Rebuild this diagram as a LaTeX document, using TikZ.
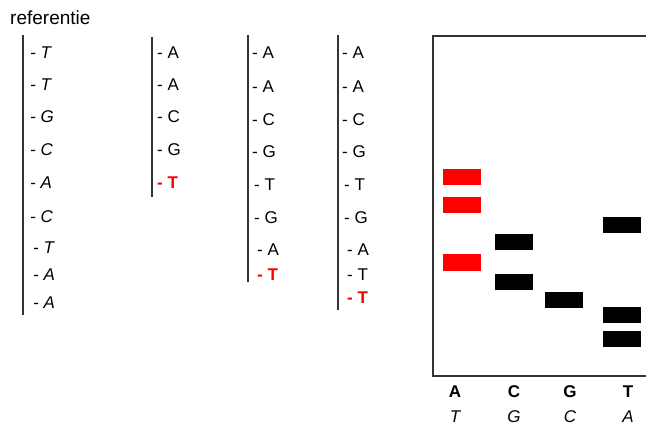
\documentclass[tikz,border=0pt]{standalone}
\usepackage{fontspec}
\setmainfont{Liberation Sans}
\usetikzlibrary{positioning}
\tikzset{
  base/.style    = {anchor=west, inner sep=0pt, font=\fontsize{17}{17}\selectfont},
  refbase/.style = {base, font=\fontsize{17}{17}\selectfont\itshape},
  newbase/.style = {base, text=red, font=\fontsize{17}{17}\selectfont\bfseries},
  strand/.style  = {line width=1.3pt, black!80},
  band/.style    = {fill=black, draw=none, minimum width=38pt, minimum height=16pt,
                    inner sep=0pt},
  redband/.style = {band, fill=red},
  lanelab/.style = {inner sep=0pt, font=\fontsize{17}{17}\selectfont\bfseries},
  complab/.style = {inner sep=0pt, font=\fontsize{17}{17}\selectfont\itshape},
}

\begin{document}
\begin{tikzpicture}[x=1pt, y=-1pt]
\useasboundingbox (0,0) rectangle (646,425);

\node[base, font=\fontsize{19}{19}\selectfont] (title) at (10,18) {referentie};

% reference strand
\draw[strand] (23,35) -- (23,315);
\foreach \y/\x/\b [count=\i] in {53/30/T, 85/30/T, 117/30/G, 150/30/C, 183/30/A,
    217/30/C, 248/33/T, 275/33/A, 303/33/A}
  \node[refbase] (r\i) at (\x,\y) {- \b};

% copied strands, stopped at a T
\draw[strand] (152,37) -- (152,197);
\foreach \y/\x/\b [count=\i] in {53/157/A, 85/157/A, 117/157/C, 150/157/G}
  \node[base] (s\i) at (\x,\y) {- \b};
\node[newbase] (s5) at (157,183) {- T};

\draw[strand] (248,35) -- (248,282);
\foreach \y/\x/\b [count=\i] in {53/252/A, 87/252/A, 120/252/C, 152/252/G,
    185/254/T, 218/254/G, 250/257/A}
  \node[base] (u\i) at (\x,\y) {- \b};
\node[newbase] (u8) at (257,275) {- T};

\draw[strand] (338,35) -- (338,310);
\foreach \y/\x/\b [count=\i] in {53/342/A, 87/342/A, 120/342/C, 152/342/G,
    185/344/T, 218/344/G, 250/347/A, 275/347/T}
  \node[base] (v\i) at (\x,\y) {- \b};
\node[newbase] (v9) at (347,298) {- T};

% gel
\draw[line width=1.2pt, black!80] (646,36) -- (433,36) -- (433,376) -- (646,376);

\node[redband] (a1) at (461.5,177.5) {};
\node[redband] (a2) at (461.5,205) {};
\node[redband] (a3) at (461.5,262.5) {};
\node[band] (c1) at (513.5,242.5) {};
\node[band] (c2) at (513.5,281.5) {};
\node[band] (g1) at (563.5,299.5) {};
\node[band] (t1) at (622,225.5) {};
\node[band] (t2) at (622,314.5) {};
\node[band] (t3) at (622,338.5) {};

\foreach \x/\b/\c [count=\i] in {455/A/T, 514/C/G, 570/G/C, 628/T/A} {
  \node[lanelab] (lane\i) at (\x,392) {\b};
  \node[complab] (comp\i) at (\x,417) {\c};
}
\end{tikzpicture}
\end{document}
